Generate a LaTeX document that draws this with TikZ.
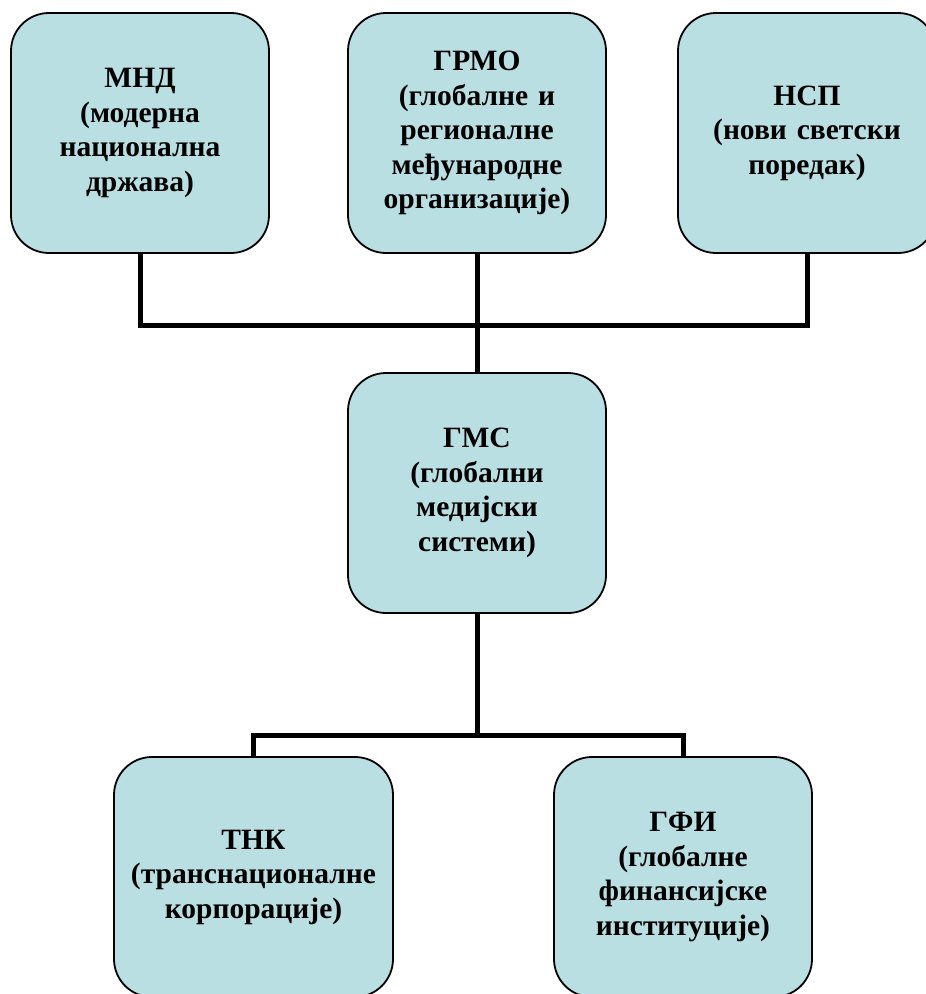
\documentclass[tikz,border=0pt]{standalone}
\usepackage{fontspec}
\setmainfont{Liberation Serif}
\definecolor{boxfill}{RGB}{186,223,226}
\begin{document}
\begin{tikzpicture}[x=1pt,y=-1pt,
  orgbox/.style={draw=black, line width=1.8pt, fill=boxfill, rounded corners=38pt,
    minimum width=258pt, minimum height=240pt, inner sep=0pt,
    text width=250pt, align=center,
    font=\bfseries\fontsize{29.5}{34.5}\selectfont},
  link/.style={draw=black, line width=5pt}]
\useasboundingbox (0,0) rectangle (926,994);
\clip (0,0) rectangle (926,994);
\fill[white] (0,0) rectangle (926,994);
\coordinate (j1) at (477,325);
\coordinate (j2) at (477,735);
\node[orgbox] (mnd) at (140,133) {МНД\\(модерна\\национална\\држава)};
\node[orgbox] (grmo) at (477,133) {ГРМО\\(глобалне и\\регионалне\\међународне\\организације)};
\node[orgbox] (nsp) at (807,133) {НСП\\(нови светски\\поредак)};
\node[orgbox] (gms) at (477,493) {ГМС\\(глобални\\медијски\\системи)};
\node[orgbox, minimum width=279pt] (tnk) at (253.5,877) {ТНК\\(транснационалне\\корпорације)};
\node[orgbox] (gfi) at (683,877) {ГФИ\\(глобалне\\финансијске\\институције)};
\draw[link] (mnd.south) |- (j1) -| (nsp.south);
\draw[link] (grmo.south) -- (gms.north);
\draw[link] (gms.south) -- (j2);
\draw[link] (tnk.north) |- (j2) -| (gfi.north);
\end{tikzpicture}
\end{document}
